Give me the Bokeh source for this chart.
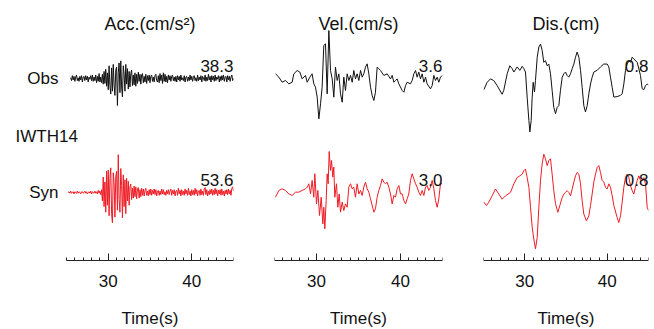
from bokeh.plotting import figure
from bokeh.layouts import row
from bokeh.models import Range1d, FixedTicker, Label
from bokeh.embed import file_html
from bokeh.resources import INLINE

# ---------------- data ----------------
COLUMNS = ["Acc.(cm/s²)", "Vel.(cm/s)", "Dis.(cm)"]
STATION = "IWTH14"
ROW_NAMES = ["Obs", "Syn"]
OBS_PEAK = ["38.3", "3.6", "0.8"]
SYN_PEAK = ["53.6", "3.0", "0.8"]
X_START, X_END = 25, 45
MAJOR_TICKS = [30, 40]
MINOR_TICKS = list(range(25, 46))
X_LABEL = "Time(s)"

# acceleration, evenly sampled (start time, sample interval); one row = 1 s
ACC_OBS_T0, ACC_SYN_T0, ACC_DT = 25.5, 25.2, 0.1
ACC_OBS = [1, -3, 4, -2, 3, -4, 2, 5, -3, 1,
           -4, 3, -2, 4, -5, 2, 3, -3, 4, -2,
           3, -5, 2, -1, 4, -3, 5, -4, 2, -3,
           5, -6, 3, -4, 7, -5, 2, -6, 6, -8,
           10, -7, 13, -11, 8, -16, 18, -10, -22, 15,
           -18, 20, -9, -24, 12, 16, -38.3, 8, 22, -20,
           25, -12, -26, 18, 6, -18, 20, -8, 14, -15,
           10, -12, 7, 12, -10, 5, -9, 8, -11, 6,
           -7, 9, -4, 6, -8, 5, 7, -6, 3, -5,
           6, -7, 4, -3, 5, -6, 3, 5, -4, 2,
           -5, 4, 6, -3, -5, 4, -6, 7, -3, 5,
           -7, 8, -4, 6, -5, 3, -6, 5, -2, 4,
           -4, 3, 5, -3, 2, -4, 3, -5, 4, -2,
           3, -4, 5, -2, 1, -3, 4, -5, 2, 3,
           -4, 2, -3, 5, -2, 3, -4, 2, 4, -3,
           1, -4, 5, -3, 2, -2, 4, -5, 3, 1,
           -3, 5, -4, 2, -3, 6, -2, 3, -5, 4,
           -2, 3, -4, 5, -3, 2, -1, 4, -5, 3,
           -3, 4, -2, 5, -4, 2, 3, -5, 4, -2,
           3, -4, 2, 5, -3, 0]
ACC_SYN = [0, 1, -1, 2, -1, 0, 1, -2, 1, 0,
           -1, 2, -1, 1, 0, -2, 1, 1, -1, 0,
           2, -1, 1, -2, 0, 1, -1, 2, -2, 1,
           0, -1, 2, -1, 1, -2, 3, -1, 2, -3,
           4, -12, 22, -20, 15, -28, 30, -18, 32, -33,
           20, 35, -30, -43, 28, 14, -35, 22, 30, -25,
           53.6, -10, -28, 34, 10, -36, 25, -20, 18, -30,
           20, -12, 16, -18, 8, 12, -10, 6, -8, 9,
           -6, 8, -9, 5, 7, -8, 4, -6, 6, -4,
           5, -5, 3, 6, -4, 2, -5, 4, -3, 5,
           -4, 3, -2, 5, -3, 4, -5, 2, 3, -4,
           2, -3, 5, -2, 4, -3, 1, -4, 3, -2,
           4, -3, 2, 5, -4, 3, -2, 4, -5, 2,
           3, -4, 6, -2, 3, -5, 4, -3, 2, -4,
           5, -2, 3, -4, 6, -3, 2, -5, 4, -3,
           3, -4, 6, -2, 4, -5, 2, 3, -4, 5,
           -3, 2, -4, 5, 7, -3, 4, -5, 2, -3,
           4, -2, 5, -4, 3, -3, 6, -2, 4, -5,
           3, -2, 4, -4, 5, -3, 2, -5, 3, -2,
           4, -3, 5, -2, 3, -4, 6, 8, 2]

VEL_OBS_T = [25.12, 25.52, 25.91, 26.31, 26.71, 27.10, 27.30, 27.70, 28.02, 28.29,
             28.69, 28.89, 29.21, 29.48, 29.68, 29.88, 30.08, 30.28, 30.48, 30.67,
             30.87, 31.07, 31.27, 31.47, 31.67, 31.87, 32.06, 32.26, 32.46, 32.66,
             32.86, 33.06, 33.25, 33.45, 33.65, 33.85, 34.05, 34.25, 34.44, 34.64,
             34.84, 35.04, 35.24, 35.44, 35.63, 35.83, 36.03, 36.23, 36.43, 36.63,
             36.83, 37.02, 37.22, 37.42, 37.62, 38.02, 38.41, 38.81, 39.01, 39.21,
             39.40, 39.60, 39.80, 40.20, 40.40, 40.60, 40.79, 41.19, 41.39, 41.59,
             41.79, 41.98, 42.18, 42.38, 42.58, 42.78, 42.98, 43.17, 43.57, 43.77,
             43.97, 44.17, 44.37, 44.56, 44.76, 44.96]
VEL_OBS = [0.35, 0.10, -0.28, -0.15, -0.40, -0.28, 0.35, 0.60, 0.48, -0.03,
           0.23, -0.28, 0.10, 0.35, -0.40, -0.65, -1.40, -3.03, -1.90, -0.65,
           2.48, 2.60, -1.15, 3.60, 0.60, -0.03, -1.40, 0.85, -0.15, 0.35,
           -1.15, -1.78, 0.10, -0.90, 0.35, -0.15, 0.23, -0.28, 0.60, -0.03,
           0.35, -0.15, 0.60, 0.10, 0.35, 0.85, 1.10, 0.35, -0.65, -1.28,
           -1.65, -1.03, 0.85, 0.73, 0.60, 0.23, 0.35, -0.03, 0.23, -0.28,
           -0.15, -0.03, -0.40, -0.90, -1.03, -0.53, -0.28, -0.40, -0.15, 0.35,
           0.60, 0.10, 0.48, -0.03, 0.35, -0.28, 0.10, -0.40, -0.78, -0.53,
           0.23, -0.15, 0.10, -0.28, 0.10, 0.23]

VEL_SYN_T = [25.12, 25.52, 25.91, 26.31, 26.71, 27.10, 27.50, 27.90, 28.29, 28.69,
             28.89, 29.09, 29.29, 29.48, 29.68, 29.80, 30.00, 30.16, 30.36, 30.56,
             30.75, 30.87, 30.99, 31.15, 31.27, 31.39, 31.51, 31.67, 31.79, 31.94,
             32.06, 32.18, 32.38, 32.54, 32.70, 32.86, 33.06, 33.25, 33.45, 33.65,
             33.85, 34.05, 34.25, 34.44, 34.64, 34.84, 35.04, 35.24, 35.44, 35.63,
             35.83, 36.03, 36.23, 36.43, 36.83, 37.02, 37.22, 37.42, 37.62, 37.82,
             38.02, 38.21, 38.41, 38.61, 38.81, 39.01, 39.21, 39.40, 39.60, 39.80,
             40.00, 40.20, 40.40, 40.60, 40.79, 40.99, 41.19, 41.39, 41.59, 41.79,
             41.98, 42.18, 42.38, 42.58, 42.78, 42.98, 43.17, 43.37, 43.57, 43.77,
             43.97, 44.17, 44.37, 44.56, 44.76, 44.96]
VEL_SYN = [-0.43, 0.08, 0.20, 0.08, -0.18, -0.30, -0.05, -0.05, 0.08, 0.20,
           0.33, 0.58, -0.18, 0.83, -0.43, 1.33, -0.93, 0.08, -1.80, -0.43,
           -2.43, -1.18, -2.80, -0.68, 1.33, 0.58, 3.00, 1.58, 2.33, 1.08,
           1.83, -0.43, 0.58, -1.18, -0.18, -1.55, -0.80, -1.43, -0.93, -1.18,
           0.33, 0.58, 0.20, 0.33, -0.43, 0.58, -0.18, 0.08, -0.30, 0.33,
           0.70, 0.20, -0.05, -0.55, -1.55, -1.30, -0.43, 0.08, 0.45, 0.95,
           0.70, 0.58, 0.70, 0.33, -0.18, -0.93, -0.30, -0.43, 0.20, 0.45,
           -0.18, -0.18, -0.68, -0.93, -0.55, -0.18, 0.83, 1.33, 0.95, 0.58,
           0.33, -0.05, -0.30, 0.08, -0.30, 0.33, 0.45, 0.08, 0.33, 0.83,
           0.20, -0.68, -1.18, -0.55, 0.58, 0.58]

DIS_OBS_T = [25.04, 25.44, 25.85, 26.25, 26.66, 27.26, 27.46, 27.87, 28.19, 28.47,
             28.68, 29.08, 29.40, 29.69, 29.89, 30.09, 30.29, 30.50, 30.62, 30.78,
             30.90, 31.02, 31.18, 31.30, 31.51, 31.71, 31.91, 32.11, 32.31, 32.51,
             32.72, 32.92, 33.12, 33.32, 33.52, 33.73, 33.93, 34.13, 34.33, 34.54,
             34.74, 34.94, 35.14, 35.34, 35.55, 35.75, 35.95, 36.15, 36.35, 36.56,
             36.76, 36.96, 37.16, 37.36, 37.57, 37.77, 37.97, 38.17, 38.37, 38.78,
             39.18, 39.58, 39.99, 40.19, 40.39, 40.60, 40.80, 41.20, 41.61, 41.81,
             42.01, 42.21, 42.41, 42.62, 42.82, 43.02, 43.22, 43.63, 44.03, 44.23,
             44.43, 44.64, 44.84, 45.00]
DIS_OBS = [-0.03, 0.10, 0.16, 0.13, 0.04, -0.11, -0.04, 0.25, 0.39, 0.34,
           0.28, 0.37, 0.31, 0.38, 0.34, 0.28, -0.16, -0.57, -0.77, -0.57,
           -0.16, 0.10, -0.07, 0.13, 0.54, 0.72, 0.77, 0.66, 0.45, 0.48,
           0.39, 0.42, 0.25, -0.04, -0.34, -0.45, -0.34, -0.31, -0.04, 0.19,
           0.25, 0.28, 0.22, 0.19, 0.25, 0.34, 0.42, 0.54, 0.63, 0.54,
           0.31, 0.01, -0.31, -0.42, -0.31, -0.10, 0.07, 0.19, 0.28, 0.31,
           0.37, 0.42, 0.42, 0.37, 0.19, 0.01, -0.16, -0.15, -0.13, -0.10,
           0.07, 0.31, 0.42, 0.48, 0.45, 0.54, 0.51, 0.45, 0.22, -0.01,
           -0.03, 0.04, 0.07, 0.05]

DIS_SYN_T = [25.04, 25.36, 25.65, 26.05, 26.45, 26.86, 27.26, 27.67, 28.27, 28.68,
             29.08, 29.40, 29.69, 29.89, 30.09, 30.29, 30.50, 30.70, 30.90, 31.10,
             31.30, 31.51, 31.71, 31.91, 32.11, 32.31, 32.51, 32.72, 32.92, 33.12,
             33.32, 33.52, 33.73, 34.01, 34.25, 34.54, 34.74, 34.94, 35.14, 35.34,
             35.55, 35.75, 35.95, 36.15, 36.35, 36.56, 36.76, 36.96, 37.16, 37.48,
             37.77, 37.97, 38.17, 38.37, 38.58, 38.78, 38.98, 39.18, 39.38, 39.58,
             39.79, 39.99, 40.19, 40.39, 40.60, 40.80, 41.20, 41.40, 41.61, 41.81,
             42.01, 42.21, 42.41, 42.62, 42.82, 43.02, 43.22, 43.42, 43.63, 43.83,
             44.03, 44.23, 44.43, 44.64, 44.84, 45.00]
DIS_SYN = [-0.01, -0.07, -0.01, 0.10, 0.22, 0.13, 0.04, 0.10, 0.16, 0.31,
           0.42, 0.45, 0.48, 0.54, 0.57, 0.42, 0.25, -0.10, -0.45, -0.66,
           -0.83, -0.63, -0.10, 0.37, 0.66, 0.83, 0.75, 0.63, 0.72, 0.75,
           0.48, 0.19, -0.04, -0.19, -0.07, 0.07, 0.13, 0.16, 0.19, 0.16,
           0.10, 0.22, 0.34, 0.45, 0.51, 0.48, 0.31, 0.01, -0.22, -0.34,
           -0.25, -0.07, 0.13, 0.34, 0.48, 0.60, 0.63, 0.51, 0.37, 0.34,
           0.25, 0.22, 0.31, 0.25, 0.10, -0.07, -0.28, -0.37, -0.25, -0.01,
           0.25, 0.42, 0.48, 0.42, 0.28, 0.19, 0.13, 0.25, 0.37, 0.45,
           0.37, 0.37, 0.42, 0.31, -0.10, -0.16]

# ---------------- layout / style ----------------
FONT = "Liberation Sans"
OBS_COLOR = "#111111"
SYN_COLOR = "#ee1c25"
H = 329                              # frame covers the whole height (px units, 0 = bottom)
AXIS_Y = 69                          # axis line height above the bottom
PX_PER_UNIT = [0.705, 13.33, 57.0]   # display gain per column
OBS_ZERO = [251, 251, 241.5]         # trace zero lines, px above the bottom
SYN_ZERO = [137, 138, 128]
PANEL_W = [167, 168, 165]            # px width of the 25-45 s span
LEFT_PAD = [66, 0, 0]                # extra frame room left of 25 s (row labels)
BORDER_L = [0, 21, 21]
BORDER_R = [20, 20, 6]

acc_obs_t = [ACC_OBS_T0 + ACC_DT * i for i in range(len(ACC_OBS))]
acc_syn_t = [ACC_SYN_T0 + ACC_DT * i for i in range(len(ACC_SYN))]
traces = [
    ((acc_obs_t, ACC_OBS), (acc_syn_t, ACC_SYN)),
    ((VEL_OBS_T, VEL_OBS), (VEL_SYN_T, VEL_SYN)),
    ((DIS_OBS_T, DIS_OBS), (DIS_SYN_T, DIS_SYN)),
]


def label(p, text, x, y, align, size="17px", x_units="data"):
    p.add_layout(Label(x=x, x_units=x_units, y=y, y_units="screen", text=text,
                       text_align=align, text_baseline="middle",
                       text_font=FONT, text_font_size=size, text_color="#111111"))


figs = []
for c in range(3):
    frame_w = PANEL_W[c] + LEFT_PAD[c]
    x0 = X_START - LEFT_PAD[c] * (X_END - X_START) / PANEL_W[c]
    p = figure(width=BORDER_L[c] + frame_w + BORDER_R[c], height=H,
               x_range=Range1d(x0, X_END), y_range=Range1d(0, H),
               output_backend="svg", toolbar_location=None,
               y_axis_location=None,
               min_border_left=BORDER_L[c], min_border_right=BORDER_R[c],
               min_border_top=0, min_border_bottom=0)
    p.outline_line_color = None
    p.xgrid.visible = False
    p.ygrid.visible = False
    p.background_fill_color = "white"
    p.border_fill_color = "white"

    g = PX_PER_UNIT[c]
    p.extra_y_ranges = {
        "obs": Range1d(-OBS_ZERO[c] / g, (H - OBS_ZERO[c]) / g),
        "syn": Range1d(-SYN_ZERO[c] / g, (H - SYN_ZERO[c]) / g),
    }
    (ot, ov), (st, sv) = traces[c]
    p.line(ot, ov, y_range_name="obs", line_color=OBS_COLOR, line_width=1)
    p.line(st, sv, y_range_name="syn", line_color=SYN_COLOR, line_width=1)

    ax = p.xaxis[0]
    ax.fixed_location = AXIS_Y
    ax.bounds = (X_START, X_END)
    ax.ticker = FixedTicker(ticks=MAJOR_TICKS, minor_ticks=MINOR_TICKS)
    ax.major_tick_in = 7
    ax.major_tick_out = 0
    ax.minor_tick_in = 3
    ax.minor_tick_out = 0
    ax.axis_line_color = "#222222"
    ax.major_tick_line_color = "#222222"
    ax.minor_tick_line_color = "#222222"
    ax.major_label_text_font = FONT
    ax.major_label_text_font_size = "17px"
    ax.major_label_text_color = "#111111"
    ax.major_label_standoff = 14

    mid = (X_START + X_END) / 2
    label(p, COLUMNS[c], mid, 306, "center", size="18px")
    label(p, X_LABEL, mid, 11, "center")
    label(p, OBS_PEAK[c], X_END, 264, "right")
    label(p, SYN_PEAK[c], X_END, 150, "right")
    figs.append(p)

p0 = figs[0]
label(p0, ROW_NAMES[0], 58, 251, "right", x_units="screen")
label(p0, STATION, 15, 193, "left", x_units="screen")
label(p0, ROW_NAMES[1], 58, 137, "right", x_units="screen")

layout = row(*figs)
open("out.html", "w").write(file_html(layout, INLINE))
